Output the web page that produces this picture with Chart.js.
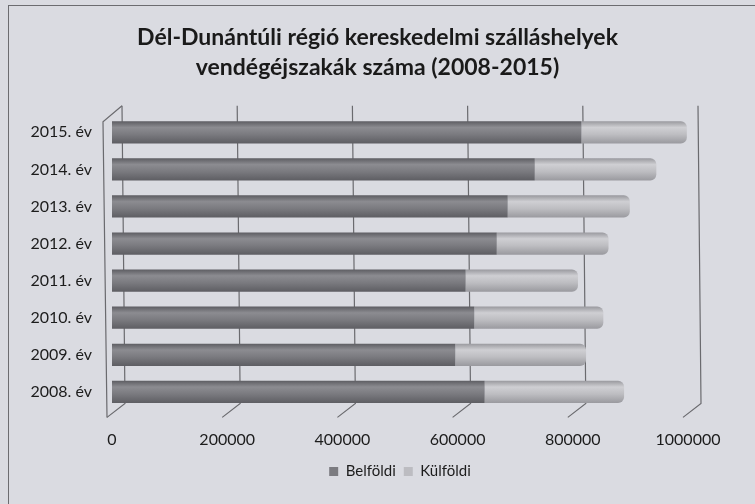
<!DOCTYPE html>
<html><head><meta charset="utf-8">
<script src="https://cdn.jsdelivr.net/npm/chart.js@4"></script>
<style>
html,body{margin:0;padding:0;background:#dadbe1;}
#wrap{position:relative;width:755px;height:504px;overflow:hidden}
canvas{display:block}
#frame{position:absolute;left:8px;top:5px;width:760px;height:510px;border-left:1.5px solid #6c6c70;border-top:1.5px solid #6c6c70;pointer-events:none}
</style></head><body>
<div id="wrap"><canvas id="c" width="755" height="504"></canvas><div id="frame"></div></div>
<script>
// ---- data ----
const categories = ['2015. év','2014. év','2013. év','2012. év','2011. év','2010. év','2009. év','2008. év'];
const belfoldi = [815000, 734000, 687000, 668000, 614000, 629000, 596000, 647000];
const kulfoldi = [183000, 211000, 212000, 194000, 195000, 224000, 227000, 242000];
const xTicks = [0, 200000, 400000, 600000, 800000, 1000000];
const seriesNames = ['Belföldi', 'Külföldi'];
const titleLines = ['Dél-Dunántúli régió kereskedelmi szálláshelyek', 'vendégéjszakák száma (2008-2015)'];

const FONT = 'Lato, "Open Sans", sans-serif';
const solid = ['#7b7b80', '#bcbcc1'];

function cyl(dark, light, mid) {
  return (ctx) => {
    const chart = ctx.chart;
    const y = chart.scales && chart.scales.y;
    if (!y || ctx.type !== 'data' || !chart.chartArea) return mid;
    const yc = y.getPixelForValue(ctx.dataIndex);
    const h = 11;
    const g = chart.ctx.createLinearGradient(0, yc - h, 0, yc + h);
    g.addColorStop(0, dark);
    g.addColorStop(0.28, light);
    g.addColorStop(0.6, mid);
    g.addColorStop(1, dark);
    return g;
  };
}

const walls = {
  id: 'walls',
  beforeDatasetsDraw(chart) {
    const {ctx, chartArea: a, scales: {x}} = chart;
    ctx.save();
    ctx.strokeStyle = '#6a6a6e';
    ctx.lineWidth = 1.2;
    const top = a.top - 8, back = a.bottom - 7, front = a.bottom + 7;
    x.ticks.forEach(t => {
      const px = x.getPixelForValue(t.value);
      ctx.beginPath();
      ctx.moveTo(px + 10, top);
      ctx.lineTo(px + 13, back);
      ctx.lineTo(px - 5, front);
      ctx.stroke();
    });
    const p0 = x.getPixelForValue(0);
    ctx.beginPath();
    ctx.moveTo(p0 + 10, top);
    ctx.lineTo(p0 - 9, a.top + 8);
    ctx.lineTo(p0 - 5, front);
    ctx.stroke();
    ctx.restore();
  }
};

new Chart(document.getElementById('c'), {
  type: 'bar',
  data: {
    labels: categories,
    datasets: [
      { label: seriesNames[0], data: belfoldi,
        backgroundColor: cyl('#5e5e63', '#8c8c91', '#7a7a7f'),
        borderRadius: 5, borderSkipped: 'end',
        barPercentage: 0.6, categoryPercentage: 1.0 },
      { label: seriesNames[1], data: kulfoldi,
        backgroundColor: cyl('#9a9a9f', '#cfcfd3', '#bdbdc1'),
        borderRadius: 6, borderSkipped: 'start',
        barPercentage: 0.6, categoryPercentage: 1.0 }
    ]
  },
  options: {
    indexAxis: 'y',
    responsive: false,
    animation: false,
    layout: { padding: { left: 0, right: 0, top: 0, bottom: 15 } },
    scales: {
      x: {
        stacked: true, min: 0, max: 1000000,
        afterBuildTicks: s => { s.ticks = xTicks.map(v => ({ value: v })); },
        afterFit: s => { s.height = 45.6; },
        grid: { display: false, drawTicks: false },
        border: { display: false },
        ticks: { padding: 20, color: '#1c1c1c', font: { family: FONT, size: 16 }, callback: v => String(v), maxRotation: 0 }
      },
      y: {
        stacked: true,
        afterFit: s => { s.width = 112; },
        grid: { display: false, drawTicks: false },
        border: { display: false },
        ticks: { padding: 20, color: '#1c1c1c', font: { family: FONT, size: 16 } }
      },
      yr: {
        type: 'category', position: 'right', display: true,
        afterFit: s => { s.width = 67; },
        grid: { display: false, drawTicks: false },
        border: { display: false },
        ticks: { display: false }
      }
    },
    plugins: {
      title: {
        display: true, text: titleLines, color: '#1a1a1a',
        font: { family: FONT, size: 23, weight: 'bold', lineHeight: 1.3 },
        padding: { top: 23, bottom: 31 }
      },
      legend: {
        position: 'bottom', fullSize: false,
        labels: {
          color: '#1c1c1c', boxWidth: 9, boxHeight: 9, padding: 8,
          font: { family: FONT, size: 15 },
          generateLabels: (chart) => Chart.defaults.plugins.legend.labels.generateLabels(chart).map((l, i) => Object.assign(l, { fillStyle: solid[i], strokeStyle: solid[i], lineWidth: 0 }))
        }
      },
      tooltip: { enabled: false }
    }
  },
  plugins: [walls]
});
</script>
</body></html>
